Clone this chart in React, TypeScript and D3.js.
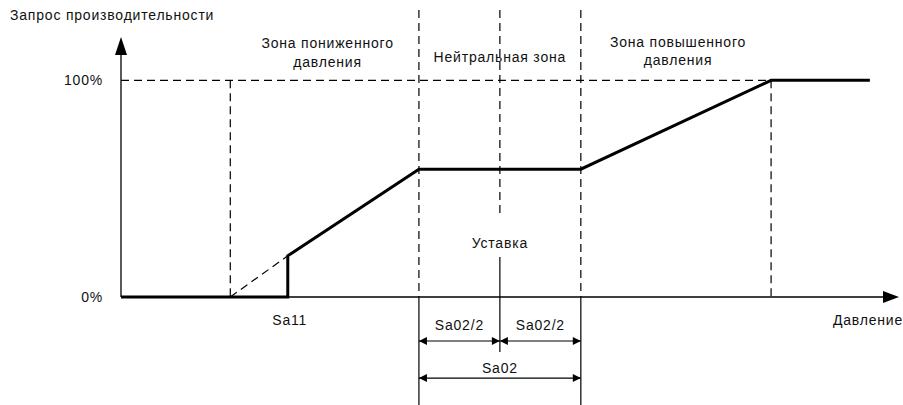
import React from "react";
import * as d3 from "d3";

// Abstract units: pressure relative to setpoint (Sa02/2 = 1 unit), demand in %
const pressureDomain: [number, number] = [-4.68, 4.93];
const demandDomain: [number, number] = [0, 120];

// Capacity demand curve (thick line)
const curvePressure = [-4.68, -2.62, -2.62, -1, 1, 3.35, 4.57];
const curveDemand = [0, 0, 19, 59, 59, 100, 100];

// Dashed extension of the ramp below Sa11
const extPressure = [-3.33, -2.62];
const extDemand = [0, 19];

// Key pressures
const sa11Start = -3.33;
const sa11 = -2.62;
const neutralLeft = -1;
const setpoint = 0;
const neutralRight = 1;
const fullPressure = 3.35;

// Demand tick labels
const demandTicks = [0, 100];
const demandTickLabels = ["0%", "100%"];

// Texts
const yTitle = "Запрос производительности";
const xTitle = "Давление";
const zoneLow = ["Зона пониженного", "давления"];
const zoneNeutral = "Нейтральная зона";
const zoneHigh = ["Зона повышенного", "давления"];
const setpointLabel = "Уставка";
const sa11Label = "Sa11";
const halfBandLabel = "Sa02/2";
const bandLabel = "Sa02";

// Vertical extents (in demand units)
const topLevel = 132.5;
const centerBreakTop = 37.8;
const centerBreakBottom = 18.5;
const centerBottom = -25.4;
const bottomLevel = -49.8;
const halfDimLevel = -20.3;
const fullDimLevel = -37.4;

const W = 903;
const H = 405;

export default function App() {
  const x = d3.scaleLinear().domain(pressureDomain).range([121, 899]);
  const y = d3.scaleLinear().domain(demandDomain).range([297, 37]);

  const line = d3
    .line<[number, number]>()
    .x((d) => x(d[0]))
    .y((d) => y(d[1]));

  const curve = line(curvePressure.map((p, i) => [p, curveDemand[i]] as [number, number]));
  const ext = line(extPressure.map((p, i) => [p, extDemand[i]] as [number, number]));

  const font = {
    fontFamily: "'Liberation Sans', Arial, sans-serif",
    fontSize: 14,
    letterSpacing: 0.8,
    fill: "#111",
  } as const;

  const dash = "8,5";
  const x0 = x(pressureDomain[0]);
  const y0 = y(0);
  const y100 = y(100);

  const dimArrow = (xa: number, ya: number, dir: number) => {
    const L = 8;
    const h = 4;
    return `M${xa},${ya}L${xa - dir * L},${ya - h}L${xa - dir * L},${ya + h}Z`;
  };

  const halfY = y(halfDimLevel);
  const fullY = y(fullDimLevel);
  const lowX = (x(sa11Start) + x(neutralLeft)) / 2 + 3;
  const highX = 678;

  return (
    <svg
      width={W}
      height={H}
      style={{ position: "absolute", left: 0, top: 0, background: "#fff" }}
    >
      {/* dashed guides */}
      <g stroke="#000" strokeWidth={1.2} fill="none" strokeDasharray={dash}>
        <line x1={x0} x2={x(fullPressure)} y1={y100} y2={y100} />
        <line x1={x(sa11Start)} x2={x(sa11Start)} y1={y100} y2={y0} />
        <line x1={x(fullPressure)} x2={x(fullPressure)} y1={y100} y2={y0} />
        <line x1={x(neutralLeft)} x2={x(neutralLeft)} y1={y(topLevel)} y2={y0} />
        <line x1={x(neutralRight)} x2={x(neutralRight)} y1={y(topLevel)} y2={y0} />
        <line x1={x(setpoint)} x2={x(setpoint)} y1={y(topLevel)} y2={y(centerBreakTop)} />
        <path d={ext ?? ""} />
      </g>
      {/* solid guides below axis */}
      <g stroke="#000" strokeWidth={1.2} fill="none">
        <line x1={x(neutralLeft)} x2={x(neutralLeft)} y1={y0} y2={y(bottomLevel)} />
        <line x1={x(neutralRight)} x2={x(neutralRight)} y1={y0} y2={y(bottomLevel)} />
        <line x1={x(setpoint)} x2={x(setpoint)} y1={y(centerBreakBottom)} y2={y(centerBottom)} />
        {/* dimension lines */}
        <line x1={x(neutralLeft)} x2={x(setpoint)} y1={halfY} y2={halfY} />
        <line x1={x(setpoint)} x2={x(neutralRight)} y1={halfY} y2={halfY} />
        <line x1={x(neutralLeft)} x2={x(neutralRight)} y1={fullY} y2={fullY} />
      </g>
      <g fill="#000">
        <path d={dimArrow(x(neutralLeft), halfY, -1)} />
        <path d={dimArrow(x(setpoint), halfY, 1)} />
        <path d={dimArrow(x(setpoint), halfY, -1)} />
        <path d={dimArrow(x(neutralRight), halfY, 1)} />
        <path d={dimArrow(x(neutralLeft), fullY, -1)} />
        <path d={dimArrow(x(neutralRight), fullY, 1)} />
      </g>
      {/* axes */}
      <g stroke="#000" strokeWidth={1.3} fill="none">
        <line x1={x0} x2={x0} y1={y0} y2={y(demandDomain[1]) + 16} />
        <line x1={x0} x2={x(pressureDomain[1]) - 14} y1={y0} y2={y0} />
      </g>
      <g fill="#000">
        <path
          d={`M${x0},${y(demandDomain[1])}L${x0 - 6},${y(demandDomain[1]) + 18}L${x0 + 6},${y(demandDomain[1]) + 18}Z`}
        />
        <path
          d={`M${x(pressureDomain[1])},${y0}L${x(pressureDomain[1]) - 16},${y0 - 6}L${x(pressureDomain[1]) - 16},${y0 + 6}Z`}
        />
      </g>
      {/* demand curve */}
      <path d={curve ?? ""} fill="none" stroke="#000" strokeWidth={3} strokeLinejoin="miter" />

      {/* texts */}
      <text x={10} y={20} {...font}>
        {yTitle}
      </text>
      {demandTicks.map((t, i) => (
        <text key={t} x={103} y={y(t) + 5} textAnchor="end" {...font}>
          {demandTickLabels[i]}
        </text>
      ))}
      <text x={903} y={325} textAnchor="end" {...font}>
        {xTitle}
      </text>
      <text x={lowX} y={48} textAnchor="middle" {...font}>
        <tspan x={lowX}>{zoneLow[0]}</tspan>
        <tspan x={lowX} dy={19}>
          {zoneLow[1]}
        </tspan>
      </text>
      <text x={x(setpoint)} y={62} textAnchor="middle" {...font}>
        {zoneNeutral}
      </text>
      <text x={highX} y={47} textAnchor="middle" {...font}>
        <tspan x={highX}>{zoneHigh[0]}</tspan>
        <tspan x={highX} dy={18}>
          {zoneHigh[1]}
        </tspan>
      </text>
      <text x={x(setpoint)} y={248} textAnchor="middle" {...font}>
        {setpointLabel}
      </text>
      <text x={x(sa11) + 2} y={325} textAnchor="middle" {...font}>
        {sa11Label}
      </text>
      <text x={(x(neutralLeft) + x(setpoint)) / 2} y={330} textAnchor="middle" {...font}>
        {halfBandLabel}
      </text>
      <text x={(x(setpoint) + x(neutralRight)) / 2} y={330} textAnchor="middle" {...font}>
        {halfBandLabel}
      </text>
      <text x={x(setpoint)} y={373} textAnchor="middle" {...font}>
        {bandLabel}
      </text>
    </svg>
  );
}
